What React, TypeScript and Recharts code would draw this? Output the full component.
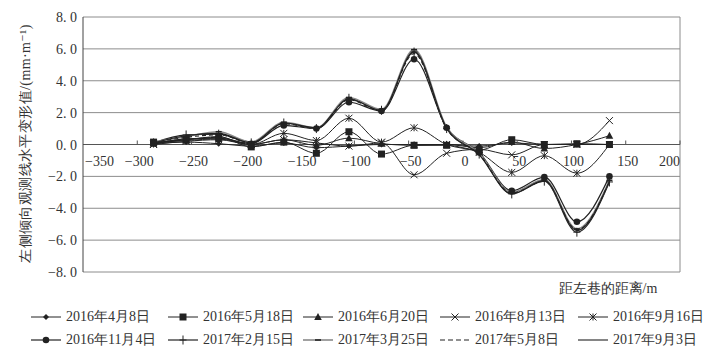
import React from 'react';
import { LineChart, Line, XAxis, YAxis, CartesianGrid, ReferenceLine } from 'recharts';

// distance from left roadway (m)
const distances = [-285, -255, -225, -195, -165, -135, -105, -75, -45, -15, 15, 45, 75, 105, 135];

const s20160408 = [0.05, 0.15, 0.05, -0.1, 0.1, -0.2, -0.1, 0.0, 0.0, 0.0, -0.1, 0.1, 0.0, 0.0, 0.0];
const s20160518 = [0.15, 0.3, 0.5, -0.15, 0.15, -0.55, 0.8, -0.6, -0.05, -0.05, -0.35, 0.3, 0.0, 0.05, 0.0];
const s20160620 = [0.1, 0.25, 0.35, 0.0, 0.3, -0.05, 0.4, 0.05, -0.05, 0.0, -0.2, 0.15, -0.25, 0.0, 0.55];
const s20160813 = [0.0, 0.2, 0.3, 0.0, 0.3, 0.1, -0.1, 0.1, -1.9, -0.55, -0.3, -0.65, 0.0, 0.0, 1.5];
const s20160916 = [0.05, 0.3, 0.45, 0.0, 0.7, 0.25, 1.65, 0.15, 1.05, 0.0, -0.5, -1.75, -0.7, -1.8, 0.0];
const s20161104 = [0.05, 0.35, 0.4, 0.05, 1.2, 1.0, 2.65, 2.1, 5.35, 1.05, -0.5, -2.9, -2.05, -4.85, -2.0];
const s20170215 = [0.1, 0.6, 0.65, 0.1, 1.35, 1.0, 2.9, 2.15, 5.8, 1.0, -0.6, -3.1, -2.3, -5.5, -2.35];
const s20170325 = [0.15, 0.5, 0.8, 0.15, 1.4, 1.05, 2.95, 2.2, 5.95, 1.1, -0.55, -3.0, -2.2, -5.3, -2.25];
const s20170508 = [0.1, 0.45, 0.6, 0.1, 1.3, 1.0, 2.8, 2.1, 5.7, 1.0, -0.6, -3.05, -2.3, -5.35, -2.3];
const s20170903 = [0.1, 0.55, 0.7, 0.1, 1.35, 1.05, 2.85, 2.15, 5.85, 1.05, -0.65, -3.1, -2.25, -5.4, -2.3];

const seriesNames = [
  '2016年4月8日', '2016年5月18日', '2016年6月20日', '2016年8月13日', '2016年9月16日',
  '2016年11月4日', '2017年2月15日', '2017年3月25日', '2017年5月8日', '2017年9月3日',
];
const seriesValues = [
  s20160408, s20160518, s20160620, s20160813, s20160916,
  s20161104, s20170215, s20170325, s20170508, s20170903,
];

const xTicks = [-350, -300, -250, -200, -150, -100, -50, 0, 50, 100, 150, 200];
const yTicks = [-8, -6, -4, -2, 0, 2, 4, 6, 8];

const yTitle = '左侧倾向观测线水平变形值/(mm·m⁻¹)';
const xTitle = '距左巷的距离/m';

const data = distances.map((d, i) => {
  const row: Record<string, number> = { x: d };
  seriesValues.forEach((vals, k) => { row['s' + k] = vals[i]; });
  return row;
});

const FONT = "'Times New Roman', 'Liberation Serif', 'DejaVu Serif', serif";
const INK = '#222';
const TEXT = '#333';
const TOP = 17;
const PLOT_H = 255;
const ZERO_Y = TOP + PLOT_H / 2;

type Shape = 'diamond' | 'square' | 'triangle' | 'cross' | 'star' | 'circle' | 'plus' | 'dash' | 'none';

const styles: { shape: Shape; stroke: string; width: number; dash?: string }[] = [
  { shape: 'diamond', stroke: INK, width: 1 },
  { shape: 'square', stroke: INK, width: 1 },
  { shape: 'triangle', stroke: INK, width: 1 },
  { shape: 'cross', stroke: INK, width: 1 },
  { shape: 'star', stroke: INK, width: 1 },
  { shape: 'circle', stroke: INK, width: 1.2 },
  { shape: 'plus', stroke: INK, width: 1.2 },
  { shape: 'dash', stroke: '#8a8a8a', width: 1.6 },
  { shape: 'none', stroke: INK, width: 1.1, dash: '4 3' },
  { shape: 'none', stroke: INK, width: 1.1 },
];

function Marker({ cx, cy, shape }: { cx: number; cy: number; shape: Shape }) {
  const s = 3.5;
  switch (shape) {
    case 'diamond':
      return <path d={`M${cx},${cy - 3} L${cx + 3},${cy} L${cx},${cy + 3} L${cx - 3},${cy} Z`} fill={INK} />;
    case 'square':
      return <rect x={cx - s} y={cy - s} width={s * 2} height={s * 2} fill={INK} />;
    case 'triangle':
      return <path d={`M${cx},${cy - 4} L${cx + 3.8},${cy + 3} L${cx - 3.8},${cy + 3} Z`} fill={INK} />;
    case 'cross':
      return <path d={`M${cx - s},${cy - s} L${cx + s},${cy + s} M${cx - s},${cy + s} L${cx + s},${cy - s}`} stroke={INK} strokeWidth={1} />;
    case 'star':
      return <path d={`M${cx - s},${cy - s} L${cx + s},${cy + s} M${cx - s},${cy + s} L${cx + s},${cy - s} M${cx},${cy - s} L${cx},${cy + s}`} stroke={INK} strokeWidth={1} />;
    case 'circle':
      return <circle cx={cx} cy={cy} r={3.3} fill={INK} />;
    case 'plus':
      return <path d={`M${cx - s},${cy} L${cx + s},${cy} M${cx},${cy - s - 1} L${cx},${cy + s + 1}`} stroke={INK} strokeWidth={1} />;
    case 'dash':
      return <path d={`M${cx - 3},${cy} L${cx + 3},${cy}`} stroke={INK} strokeWidth={1.6} />;
    default:
      return null;
  }
}

const fmtNum = (v: number) => {
  const a = Math.abs(v).toFixed(1).replace('.', '. ');
  return v < 0 ? '−' + a : a;
};

function XTick(props: any) {
  const { x, payload, index } = props;
  const v = payload.value as number;
  const label = v < 0 ? '−' + Math.abs(v) : String(v);
  const first = index === 0;
  const last = v === 200;
  return (
    <g>
      {!first && <line x1={x} x2={x} y1={ZERO_Y - 4} y2={ZERO_Y} stroke="#555" />}
      <text
        x={first ? x + 2 : last ? x : x + 2}
        y={ZERO_Y + 21}
        textAnchor={first ? 'start' : last ? 'end' : 'middle'}
        fontSize={14}
        fontFamily={FONT}
        fill={TEXT}
      >
        {label}
      </text>
    </g>
  );
}

function YTick(props: any) {
  const { y, payload } = props;
  return (
    <text x={77} y={y + 5} textAnchor="end" fontSize={14} fontFamily={FONT} fill={TEXT}>
      {fmtNum(payload.value)}
    </text>
  );
}

function LegendSymbol({ k }: { k: number }) {
  const st = styles[k];
  return (
    <svg width={30} height={12} style={{ display: 'block' }}>
      <line x1={0} x2={30} y1={6} y2={6} stroke={st.stroke} strokeWidth={st.width} strokeDasharray={st.dash ? '5 3' : undefined} />
      <Marker cx={15} cy={6} shape={st.shape} />
    </svg>
  );
}

const legendLeft = [31, 168, 303, 440, 578];

export default function App() {
  return (
    <div style={{ position: 'relative', width: 713, height: 356, background: '#fff', fontFamily: FONT }}>
      <style>{'body{margin:0}'}</style>
      <LineChart width={713} height={356} data={data} margin={{ top: TOP, right: 33, left: 0, bottom: 54 }}>
        <CartesianGrid vertical={false} stroke="#8c8c8c" />
        <XAxis
          dataKey="x"
          type="number"
          domain={[-350, 200]}
          ticks={xTicks}
          axisLine={false}
          tickLine={false}
          height={30}
          tick={XTick}
          interval={0}
          label={({ viewBox }: any) => (
            <text x={viewBox.x + viewBox.width - 72} y={viewBox.y + 21} textAnchor="middle" fontSize={14} fontFamily={FONT} fill={TEXT}>
              {xTitle}
            </text>
          )}
        />
        <YAxis
          type="number"
          domain={[-8, 8]}
          ticks={yTicks}
          width={83}
          axisLine={{ stroke: '#444' }}
          tickLine={false}
          tick={YTick}
          interval={0}
          label={({ viewBox }: any) => {
            const cx = 25;
            const cy = viewBox.y + viewBox.height / 2 - 1;
            return (
              <text x={cx} y={cy} transform={`rotate(-90, ${cx}, ${cy})`} textAnchor="middle" dominantBaseline="central" fontSize={14} letterSpacing={0.4} fontFamily={FONT} fill={TEXT}>
                {yTitle}
              </text>
            );
          }}
        />
        <ReferenceLine x={200} stroke="#8c8c8c" />
        <ReferenceLine y={0} stroke="#555" />
        {styles.map((st, k) => (
          <Line
            key={k}
            dataKey={'s' + k}
            type="monotone"
            stroke={st.stroke}
            strokeWidth={st.width}
            strokeDasharray={st.dash}
            isAnimationActive={false}
            dot={st.shape === 'none' ? false : (p: any) => <Marker key={'m' + k + '-' + p.index} cx={p.cx} cy={p.cy} shape={st.shape} />}
            activeDot={false}
          />
        ))}
      </LineChart>
      {seriesNames.map((name, k) => (
        <div
          key={name}
          style={{
            position: 'absolute',
            left: legendLeft[k % 5],
            top: k < 5 ? 308 : 331,
            display: 'flex',
            alignItems: 'center',
            fontSize: 14,
            color: TEXT,
            whiteSpace: 'nowrap',
          }}
        >
          <LegendSymbol k={k} />
          <span style={{ marginLeft: 5 }}>{name}</span>
        </div>
      ))}
    </div>
  );
}
